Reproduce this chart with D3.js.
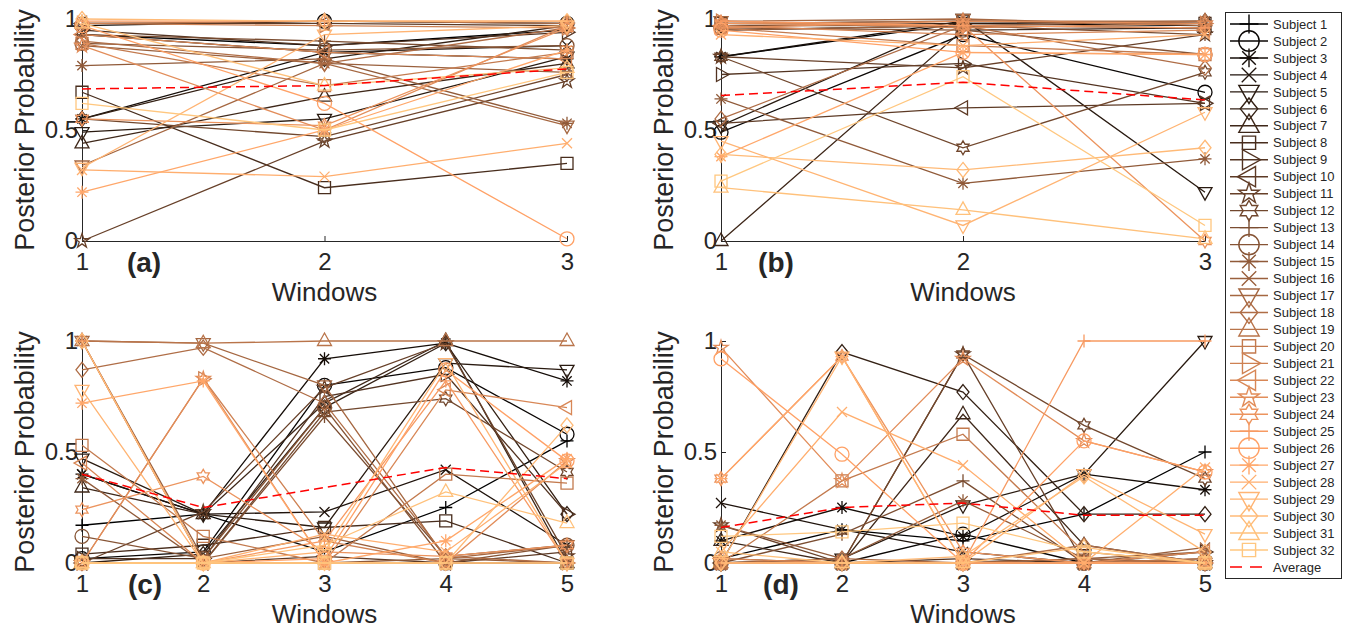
<!DOCTYPE html>
<html lang="en">
<head>
<meta charset="UTF-8">
<title>Posterior Probability</title>
<style>
  body { margin: 0; background: #fff; }
  svg { display: block; }
  text { font-family: "Liberation Sans", Arial, Helvetica, sans-serif; fill: #262626; }
</style>
</head>
<body>
<svg width="1346" height="631"></svg>

<script src="https://d3js.org/d3.v7.min.js"></script>
<script>
// ---- data ----
const subjects = d3.range(1, 33).map(i => 'Subject ' + i);
const markerCycle = ['+', 'o', '*', 'x', 'v', 'd', '^', 's', '>', '<', 'p', 'h'];
const windows3 = [1, 2, 3];
const windows5 = [1, 2, 3, 4, 5];
const yTicks = [0, 0.5, 1];
const yTickLabels = ['0', '0.5', '1'];

const probA = [
  [0.93, 0.88, 0.95], [0.97, 0.99, 0.98], [0.55, 0.85, 0.82], [0.93, 0.85, 0.88],
  [0.49, 0.55, 0.83], [0.55, 0.82, 0.97], [0.44, 0.65, 0.80], [0.67, 0.24, 0.35],
  [0.95, 0.88, 0.94], [0.98, 0.98, 0.97], [0.00, 0.45, 0.72], [0.55, 0.47, 0.75],
  [0.93, 0.90, 0.86], [0.89, 0.86, 0.88], [0.79, 0.82, 0.53], [0.88, 0.80, 0.76],
  [0.34, 0.80, 0.52], [0.90, 0.80, 0.96], [0.98, 0.99, 0.98], [0.89, 0.70, 0.85],
  [0.98, 0.97, 0.96], [0.93, 0.85, 0.82], [0.88, 0.50, 0.97], [0.55, 0.52, 0.96],
  [0.99, 0.99, 0.99], [0.97, 0.62, 0.01], [0.22, 0.50, 0.86], [0.32, 0.29, 0.44],
  [0.33, 0.93, 0.97], [1.00, 0.99, 0.99], [0.98, 0.70, 0.78], [0.62, 0.50, 0.76]
];
const avgA = [0.685, 0.70, 0.775];

const probB = [
  [0.83, 0.98, 0.97], [0.49, 0.93, 0.67], [0.83, 0.99, 0.98], [0.95, 0.97, 0.96],
  [0.52, 1.00, 0.22], [0.97, 0.98, 0.99], [0.00, 0.95, 0.96], [0.98, 0.99, 0.98],
  [0.75, 0.80, 0.62], [0.53, 0.60, 0.62], [0.83, 0.78, 0.93], [0.83, 0.42, 0.76],
  [0.97, 0.97, 0.93], [0.96, 0.95, 0.84], [0.64, 0.26, 0.37], [0.95, 0.97, 0.99],
  [0.99, 1.00, 0.97], [0.55, 0.97, 0.78], [0.98, 0.99, 0.99], [0.96, 0.88, 0.84],
  [0.99, 0.96, 0.98], [0.97, 0.93, 0.95], [0.96, 0.99, 0.98], [0.98, 0.97, 0.00],
  [0.99, 0.97, 0.96], [0.95, 0.85, 0.84], [0.38, 0.85, 0.84], [0.93, 0.88, 0.93],
  [0.45, 0.07, 0.58], [0.39, 0.32, 0.42], [0.24, 0.14, 0.01], [0.27, 0.74, 0.07]
];
const avgB = [0.655, 0.715, 0.635];

const probC = [
  [0.17, 0.22, 0.05, 0.25, 0.55], [0.02, 0.05, 0.80, 0.88, 0.58],
  [0.40, 0.22, 0.92, 0.99, 0.82], [0.40, 0.22, 0.23, 0.42, 0.08],
  [0.47, 0.22, 0.16, 0.90, 0.87], [0.00, 0.04, 0.70, 0.99, 0.22],
  [0.34, 0.22, 0.72, 1.00, 0.00], [0.04, 0.08, 0.16, 0.19, 0.00],
  [0.02, 0.02, 0.75, 0.85, 0.22], [0.00, 0.00, 0.03, 0.00, 0.05],
  [0.00, 0.23, 0.79, 0.99, 0.03], [0.00, 0.00, 0.68, 0.74, 0.41],
  [1.00, 0.00, 0.66, 0.03, 0.08], [0.12, 0.02, 0.70, 0.00, 0.08],
  [0.38, 0.00, 0.00, 0.02, 0.00], [1.00, 0.02, 0.12, 0.00, 0.00],
  [1.00, 0.99, 0.80, 0.02, 0.08], [0.87, 0.97, 0.72, 0.03, 0.00],
  [1.00, 0.99, 1.00, 1.00, 1.00], [0.53, 0.12, 0.00, 0.40, 0.36],
  [0.00, 0.83, 0.10, 0.00, 0.00], [0.45, 0.00, 0.00, 0.78, 0.70],
  [0.00, 0.83, 0.00, 0.00, 0.46], [0.24, 0.39, 0.05, 0.03, 0.08],
  [1.00, 0.00, 0.10, 0.82, 0.00], [0.00, 0.00, 0.02, 0.87, 0.46],
  [0.72, 0.82, 0.00, 0.10, 0.47], [0.00, 0.00, 0.13, 0.05, 0.45],
  [0.78, 0.00, 0.05, 0.90, 0.00], [1.00, 0.00, 0.00, 0.00, 0.62],
  [0.00, 0.00, 0.08, 0.32, 0.18], [0.00, 0.00, 0.00, 0.00, 0.00]
];
const avgC = [0.40, 0.25, 0.34, 0.43, 0.38];

const probD = [
  [0.02, 0.15, 0.10, 0.22, 0.50], [0.00, 0.00, 0.13, 0.00, 0.00],
  [0.10, 0.25, 0.12, 0.40, 0.33], [0.27, 0.15, 0.05, 0.00, 0.00],
  [0.00, 0.02, 0.26, 0.40, 1.00], [0.00, 0.95, 0.77, 0.22, 0.22],
  [0.10, 0.00, 0.67, 0.08, 0.00], [0.00, 0.00, 0.00, 0.00, 0.00],
  [0.00, 0.00, 0.02, 0.00, 0.05], [0.00, 0.00, 0.00, 0.02, 0.00],
  [0.17, 0.00, 0.94, 0.00, 0.00], [0.00, 0.00, 0.94, 0.62, 0.38],
  [0.00, 0.13, 0.37, 0.00, 0.02], [0.02, 0.00, 0.00, 0.00, 0.00],
  [0.17, 0.02, 0.28, 0.02, 0.05], [0.00, 0.00, 0.00, 0.00, 0.07],
  [0.00, 0.00, 0.00, 0.02, 0.00], [0.00, 0.02, 0.00, 0.08, 0.00],
  [0.00, 0.00, 0.00, 0.00, 0.02], [0.00, 0.37, 0.58, 0.05, 0.00],
  [0.00, 0.00, 0.00, 0.00, 0.00], [0.02, 0.00, 0.00, 0.00, 0.05],
  [0.97, 0.37, 0.92, 0.55, 0.41], [0.38, 0.93, 0.05, 0.00, 0.00],
  [0.00, 0.00, 0.00, 1.00, 1.00], [0.92, 0.49, 0.00, 0.55, 0.41],
  [0.38, 0.93, 0.00, 0.00, 0.00], [0.05, 0.68, 0.44, 0.00, 0.43],
  [0.00, 0.93, 0.00, 0.40, 0.13], [0.00, 0.00, 0.03, 0.39, 0.05],
  [0.05, 0.00, 0.00, 0.07, 0.00], [0.12, 0.14, 0.18, 0.05, 0.00]
];
const avgD = [0.16, 0.25, 0.27, 0.215, 0.215];

// ---- layout ----
const panels = [
  { tag: '(a)', probs: probA, avg: avgA, wins: windows3, left: 82,  right: 567,  top: 19,  bottom: 241, tagX: 144 },
  { tag: '(b)', probs: probB, avg: avgB, wins: windows3, left: 721, right: 1205, top: 19,  bottom: 241, tagX: 776 },
  { tag: '(c)', probs: probC, avg: avgC, wins: windows5, left: 82,  right: 567,  top: 341, bottom: 563, tagX: 145 },
  { tag: '(d)', probs: probD, avg: avgD, wins: windows5, left: 721, right: 1205, top: 341, bottom: 563, tagX: 781 }
];

const svg = d3.select('svg');

// matlab copper colormap
function copper(i) {
  const t = i / 31;
  return d3.rgb(Math.min(1, 1.25 * t) * 255, 0.7812 * t * 255, 0.4975 * t * 255).formatHex();
}

function poly(p, pts) {
  p.moveTo(pts[0][0], pts[0][1]);
  pts.slice(1).forEach(q => p.lineTo(q[0], q[1]));
  p.closePath();
}

function star(p, n, R, r) {
  const pts = d3.range(2 * n).map(i => {
    const a = -Math.PI / 2 + i * Math.PI / n;
    const rr = i % 2 ? r : R;
    return [rr * Math.cos(a), rr * Math.sin(a)];
  });
  poly(p, pts);
}

function markerPath(type, k) {
  const p = d3.path();
  const a = 6.5 * k;
  switch (type) {
    case '+': p.moveTo(-a, 0); p.lineTo(a, 0); p.moveTo(0, -a); p.lineTo(0, a); break;
    case 'o': p.moveTo(7 * k, 0); p.arc(0, 0, 7 * k, 0, 2 * Math.PI); break;
    case '*': {
      const d = a * 0.72;
      p.moveTo(-a, 0); p.lineTo(a, 0); p.moveTo(0, -a); p.lineTo(0, a);
      p.moveTo(-d, -d); p.lineTo(d, d); p.moveTo(-d, d); p.lineTo(d, -d);
      break;
    }
    case 'x': { const d = 5 * k; p.moveTo(-d, -d); p.lineTo(d, d); p.moveTo(-d, d); p.lineTo(d, -d); break; }
    case 'v': poly(p, [[-7 * k, -4.5 * k], [7 * k, -4.5 * k], [0, 8 * k]]); break;
    case '^': poly(p, [[-7 * k, 4.5 * k], [7 * k, 4.5 * k], [0, -8 * k]]); break;
    case '>': poly(p, [[-4.5 * k, -7 * k], [-4.5 * k, 7 * k], [8 * k, 0]]); break;
    case '<': poly(p, [[4.5 * k, -7 * k], [4.5 * k, 7 * k], [-8 * k, 0]]); break;
    case 'd': poly(p, [[0, -7.5 * k], [6 * k, 0], [0, 7.5 * k], [-6 * k, 0]]); break;
    case 's': poly(p, [[-6 * k, -6 * k], [6 * k, -6 * k], [6 * k, 6 * k], [-6 * k, 6 * k]]); break;
    case 'p': star(p, 5, 7.5 * k, 7.5 * k * 0.382); break;
    case 'h': star(p, 6, 7 * k, 7 * k / Math.sqrt(3)); break;
  }
  return p.toString();
}

panels.forEach(pn => {
  const x = d3.scaleLinear().domain(d3.extent(pn.wins)).range([pn.left, pn.right]);
  const y = d3.scaleLinear().domain([0, 1]).range([pn.bottom, pn.top]);
  const g = svg.append('g');

  // axes
  const ax = g.append('g')
    .attr('transform', `translate(${pn.left},0)`)
    .call(d3.axisLeft(y).tickValues(yTicks).tickFormat((d, i) => yTickLabels[i])
      .tickSizeInner(-5).tickSizeOuter(0).tickPadding(4));
  const bx = g.append('g')
    .attr('transform', `translate(0,${pn.bottom})`)
    .call(d3.axisBottom(x).tickValues(pn.wins).tickFormat(d3.format('d'))
      .tickSizeInner(-5).tickSizeOuter(0).tickPadding(12));
  [ax, bx].forEach(a => {
    a.selectAll('path, line').attr('stroke', '#262626').attr('stroke-width', 1);
    a.selectAll('text').style('font-size', '24px').attr('fill', '#262626')
      .style('font-family', '"Liberation Sans", Arial, sans-serif');
  });

  g.append('text')
    .attr('transform', `translate(${pn.left - 48},${(pn.top + pn.bottom) / 2}) rotate(-90)`)
    .attr('text-anchor', 'middle')
    .style('font-size', '27px')
    .text('Posterior Probability');

  g.append('text')
    .attr('x', (pn.left + pn.right) / 2)
    .attr('y', pn.bottom + 60)
    .attr('text-anchor', 'middle')
    .style('font-size', '26px')
    .text('Windows');

  g.append('text')
    .attr('x', pn.tagX)
    .attr('y', pn.bottom + 31)
    .attr('text-anchor', 'middle')
    .style('font-size', '28px')
    .style('font-weight', 'bold')
    .attr('fill', '#000')
    .text(pn.tag);

  const line = d3.line().x((d, i) => x(pn.wins[i])).y(d => y(d));

  pn.probs.forEach((vals, s) => {
    const col = copper(s);
    const mk = markerCycle[s % markerCycle.length];
    g.append('path')
      .attr('d', line(vals))
      .attr('fill', 'none')
      .attr('stroke', col)
      .attr('stroke-width', 1.3);
    g.selectAll(null)
      .data(vals)
      .enter()
      .append('path')
      .attr('transform', (d, i) => `translate(${x(pn.wins[i])},${y(d)})`)
      .attr('d', markerPath(mk, 1))
      .attr('fill', 'none')
      .attr('stroke', col)
      .attr('stroke-width', 1.3);
  });

  g.append('path')
    .attr('d', line(pn.avg))
    .attr('fill', 'none')
    .attr('stroke', '#ff0000')
    .attr('stroke-width', 1.5)
    .attr('stroke-dasharray', '9,5');
});

// ---- legend ----
const lg = svg.append('g');
lg.append('rect')
  .attr('x', 1225.5).attr('y', 12.5)
  .attr('width', 116).attr('height', 566)
  .attr('fill', '#fff')
  .attr('stroke', '#262626')
  .attr('stroke-width', 1);

const rowY = d3.scaleLinear().domain([0, 31]).range([24, 550]);

subjects.forEach((name, s) => {
  const col = copper(s);
  const mk = markerCycle[s % markerCycle.length];
  const yy = rowY(s);
  lg.append('line')
    .attr('x1', 1230).attr('x2', 1268).attr('y1', yy).attr('y2', yy)
    .attr('stroke', col).attr('stroke-width', 1.4);
  lg.append('path')
    .attr('transform', `translate(1249,${yy})`)
    .attr('d', markerPath(mk, mk === 's' ? 1.1 : 1.45))
    .attr('fill', 'none')
    .attr('stroke', col)
    .attr('stroke-width', 1.4);
  lg.append('text')
    .attr('x', 1273).attr('y', yy).attr('dy', '0.36em')
    .style('font-size', '13px')
    .attr('fill', '#000')
    .text(name);
});

const avgY = rowY(32);
lg.append('line')
  .attr('x1', 1230).attr('x2', 1268).attr('y1', avgY).attr('y2', avgY)
  .attr('stroke', '#ff0000').attr('stroke-width', 1.5)
  .attr('stroke-dasharray', '12,8');
lg.append('text')
  .attr('x', 1273).attr('y', avgY).attr('dy', '0.36em')
  .style('font-size', '13px')
  .attr('fill', '#000')
  .text('Average');
</script>
</body>
</html>
